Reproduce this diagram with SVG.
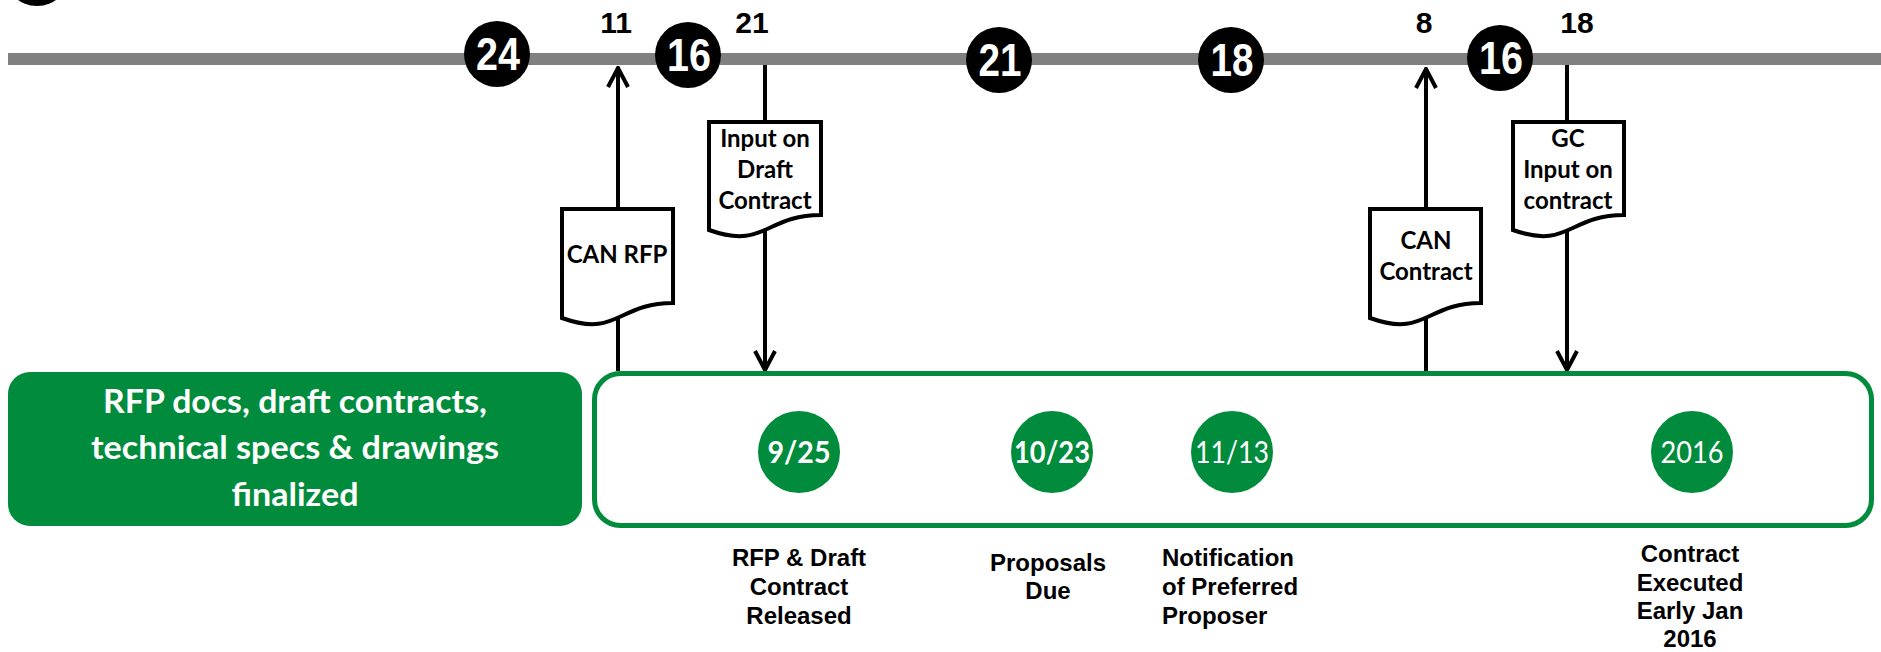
<svg xmlns="http://www.w3.org/2000/svg" width="1881" height="652" viewBox="0 0 1881 652">
<style>
.num{font-family:"Liberation Sans",Arial,sans-serif;font-weight:bold;fill:#fff;font-size:46px;text-anchor:middle}
.top{font-family:"Liberation Sans",Arial,sans-serif;font-weight:bold;fill:#000;font-size:30px;text-anchor:middle}
.lbl{font-family:"Liberation Sans",Arial,sans-serif;font-weight:bold;fill:#000;font-size:24px;text-anchor:middle}
.doc{fill:#fff;stroke:#000;stroke-width:4;stroke-linejoin:miter}
.dtx{font-family:Lato,"Open Sans",sans-serif;font-weight:bold;fill:#000;font-size:24px;text-anchor:middle}
.btx{font-family:Lato,"Open Sans",sans-serif;font-weight:bold;fill:#fff;font-size:33px;text-anchor:middle}
.date{font-family:Lato,"Open Sans",sans-serif;fill:#fff;font-size:30px;text-anchor:middle}
.conn{stroke:#000;stroke-width:4;fill:none}
.blk{fill:#000}
.gc{fill:#008C3C}
</style>
<defs>
<marker id="ah" viewBox="0 0 24 24" refX="22" refY="12" markerWidth="24" markerHeight="24" markerUnits="userSpaceOnUse" orient="auto">
<path d="M3,2 L22,12 L3,22" fill="none" stroke="#000" stroke-width="4"/>
</marker>
</defs>
<g id="timeline">
<line x1="8" y1="59" x2="1881" y2="59" stroke="#808080" stroke-width="12"/>
<circle class="blk" cx="37" cy="-27" r="33"/>
</g>
<g id="connectors">
<line class="conn" x1="618" y1="371" x2="618" y2="68" marker-end="url(#ah)"/>
<line class="conn" x1="765" y1="65" x2="765" y2="370" marker-end="url(#ah)"/>
<line class="conn" x1="1426" y1="371" x2="1426" y2="69" marker-end="url(#ah)"/>
<line class="conn" x1="1567" y1="65" x2="1567" y2="370" marker-end="url(#ah)"/>
</g>
<g id="circle-24"><circle class="blk" cx="497" cy="54" r="33"/><text class="num" x="498" y="70" textLength="44" lengthAdjust="spacingAndGlyphs">24</text></g>
<g id="label-11"><text class="top" x="616" y="33">11</text></g>
<g id="circle-16a"><circle class="blk" cx="688" cy="55" r="33"/><text class="num" x="689" y="71" textLength="44" lengthAdjust="spacingAndGlyphs">16</text></g>
<g id="label-21"><text class="top" x="752" y="33">21</text></g>
<g id="circle-21"><circle class="blk" cx="999" cy="60" r="33"/><text class="num" x="1000" y="76" textLength="43" lengthAdjust="spacingAndGlyphs">21</text></g>
<g id="circle-18"><circle class="blk" cx="1231" cy="60" r="33"/><text class="num" x="1232" y="76" textLength="43" lengthAdjust="spacingAndGlyphs">18</text></g>
<g id="label-8"><text class="top" x="1424" y="33">8</text></g>
<g id="circle-16b"><circle class="blk" cx="1500" cy="58" r="33"/><text class="num" x="1501" y="74" textLength="44" lengthAdjust="spacingAndGlyphs">16</text></g>
<g id="label-18"><text class="top" x="1577" y="33">18</text></g>

<g id="doc-can-rfp">
<path class="doc" d="M562,209 H673 V303 C617.5,303 617.5,338 562,318 Z"/>
<text class="dtx" x="617" y="263">CAN RFP</text>
</g>
<g id="doc-input-draft">
<path class="doc" d="M709,122 H821 V215 C765,215 765,250 709,230 Z"/>
<text class="dtx" x="765" y="147">Input on</text>
<text class="dtx" x="765" y="178">Draft</text>
<text class="dtx" x="765" y="209">Contract</text>
</g>
<g id="doc-can-contract">
<path class="doc" d="M1370,209 H1481 V303 C1425.5,303 1425.5,338 1370,318 Z"/>
<text class="dtx" x="1426" y="249">CAN</text>
<text class="dtx" x="1426" y="280">Contract</text>
</g>
<g id="doc-gc-input">
<path class="doc" d="M1513,122 H1624 V215 C1568.5,215 1568.5,250 1513,230 Z"/>
<text class="dtx" x="1568" y="147">GC</text>
<text class="dtx" x="1568" y="178">Input on</text>
<text class="dtx" x="1568" y="209">contract</text>
</g>

<g id="box-finalized">
<rect class="gc" x="8" y="372" width="574" height="154" rx="22"/>
<text class="btx" x="295" y="413" textLength="384" lengthAdjust="spacingAndGlyphs">RFP docs, draft contracts,</text>
<text class="btx" x="295" y="459" textLength="408" lengthAdjust="spacingAndGlyphs">technical specs &amp; drawings</text>
<text class="btx" x="295" y="506" textLength="127" lengthAdjust="spacingAndGlyphs">finalized</text>
</g>
<g id="box-timeline">
<rect x="594.5" y="373.5" width="1277" height="152" rx="26" fill="none" stroke="#008C3C" stroke-width="5"/>
</g>
<g id="date-925"><circle class="gc" cx="799" cy="452" r="41"/><text class="date" style="font-weight:bold" x="799" y="463" textLength="63" lengthAdjust="spacingAndGlyphs">9/25</text></g>
<g id="date-1023"><circle class="gc" cx="1052" cy="452" r="41"/><text class="date" style="font-weight:bold" x="1052" y="463" textLength="76" lengthAdjust="spacingAndGlyphs">10/23</text></g>
<g id="date-1113"><circle class="gc" cx="1232" cy="452" r="41"/><text class="date" x="1232" y="463" textLength="74" lengthAdjust="spacingAndGlyphs">11/13</text></g>
<g id="date-2016"><circle class="gc" cx="1692" cy="452" r="41"/><text class="date" x="1692" y="463" textLength="63" lengthAdjust="spacingAndGlyphs">2016</text></g>

<g id="label-released">
<text class="lbl" x="799" y="566">RFP &amp; Draft</text>
<text class="lbl" x="799" y="595">Contract</text>
<text class="lbl" x="799" y="624">Released</text>
</g>
<g id="label-due">
<text class="lbl" x="1048" y="571">Proposals</text>
<text class="lbl" x="1048" y="599">Due</text>
</g>
<g id="label-notification">
<text class="lbl" style="text-anchor:start" x="1162" y="566">Notification</text>
<text class="lbl" style="text-anchor:start" x="1162" y="595">of Preferred</text>
<text class="lbl" style="text-anchor:start" x="1162" y="624">Proposer</text>
</g>
<g id="label-executed">
<text class="lbl" x="1690" y="562">Contract</text>
<text class="lbl" x="1690" y="591">Executed</text>
<text class="lbl" x="1690" y="619">Early Jan</text>
<text class="lbl" x="1690" y="647">2016</text>
</g>
</svg>
